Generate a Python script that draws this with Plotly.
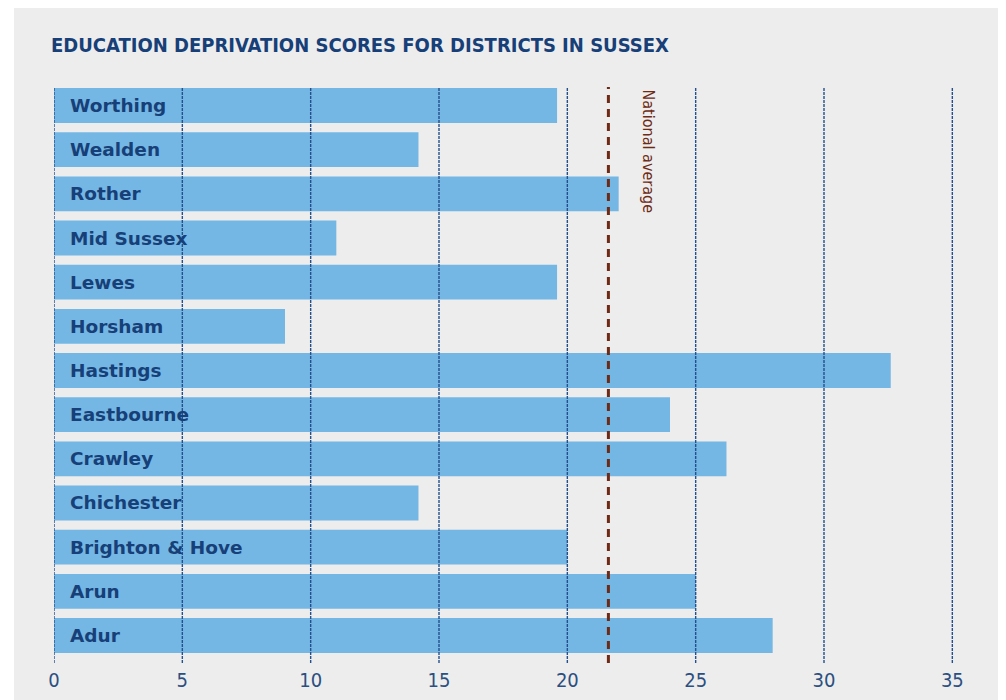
import plotly.graph_objects as go

districts = ["Adur", "Arun", "Brighton & Hove", "Chichester", "Crawley", "Eastbourne",
             "Hastings", "Horsham", "Lewes", "Mid Sussex", "Rother", "Wealden", "Worthing"]
scores = [28.0, 25.0, 20.0, 14.2, 26.2, 24.0, 32.6, 9.0, 19.6, 11.0, 22.0, 14.2, 19.6]
national_average = 21.6
tick_vals = [0, 5, 10, 15, 20, 25, 30, 35]
title_text = "EDUCATION DEPRIVATION SCORES FOR DISTRICTS IN SUSSEX"
avg_label = "National average"

NAVY = "#173f78"
BAR = "#74b7e4"
BG = "#ededed"
BROWN = "#6e2a14"
COND = "Liberation Sans Narrow, DejaVu Sans Condensed, Arial Narrow, sans-serif"

W, H = 1006, 700
ML, MR, MT, MB = 46, 36.34, 79, 45
PW = W - ML - MR
PH = H - MT - MB

fig = go.Figure()
fig.add_trace(go.Bar(
    x=scores, y=list(range(len(districts))), orientation="h",
    marker=dict(color=BAR, line=dict(width=0)), width=0.79,
    hoverinfo="skip", showlegend=False,
))

# grey card background (white strip on the left like the reference)
shapes = [dict(type="rect", xref="paper", yref="paper",
               x0=(6 - ML) / PW, x1=(W - ML) / PW,
               y0=-(MB - 3) / PH, y1=(MT + 1) / PH + 1,
               layer="below", line=dict(width=0), fillcolor=BG)]
for tv in tick_vals:
    shapes.append(dict(type="line", xref="x", yref="paper", x0=tv, x1=tv, y0=0, y1=1,
                       layer="above", line=dict(color="#24508c", width=1.4, dash="3px,1px")))
shapes.append(dict(type="line", xref="x", yref="paper", x0=national_average, x1=national_average,
                   y0=0, y1=1, layer="above", line=dict(color=BROWN, width=3, dash="8px,6px")))

annotations = []
for i, name in enumerate(districts):
    annotations.append(dict(x=0, y=i, xref="x", yref="y", text=name, showarrow=False,
                            xanchor="left", yanchor="middle", xshift=14,
                            font=dict(family="DejaVu Sans, Verdana, sans-serif", size=18.5,
                                      color=NAVY, weight="bold")))
annotations.append(dict(x=23.2, y=1, xref="x", yref="paper", text=avg_label, showarrow=False,
                        textangle=90, xanchor="center", yanchor="top", yshift=-1,
                        font=dict(family=COND, size=16, color=BROWN)))
annotations.append(dict(x=0, y=1, xref="paper", yref="paper", text="<b>" + title_text + "</b>",
                        showarrow=False, xanchor="left", yanchor="middle", xshift=-5, yshift=42,
                        font=dict(family=COND, size=20, color=NAVY)))

fig.update_layout(
    width=W, height=H,
    margin=dict(l=ML, r=MR, t=MT, b=MB, pad=0),
    paper_bgcolor="#ffffff", plot_bgcolor=BG,
    xaxis=dict(range=[0, 36], tickvals=tick_vals, showgrid=False, zeroline=False,
               showline=False, ticks="", ticklabelstandoff=3,
               tickfont=dict(family=COND, size=20, color="#2b4f80"),
               fixedrange=True),
    yaxis=dict(range=[-0.623, 12.419], showticklabels=False, showgrid=False, zeroline=False,
               showline=False, ticks="", fixedrange=True),
    shapes=shapes, annotations=annotations, bargap=0.2,
)

fig.write_html("out.html")
